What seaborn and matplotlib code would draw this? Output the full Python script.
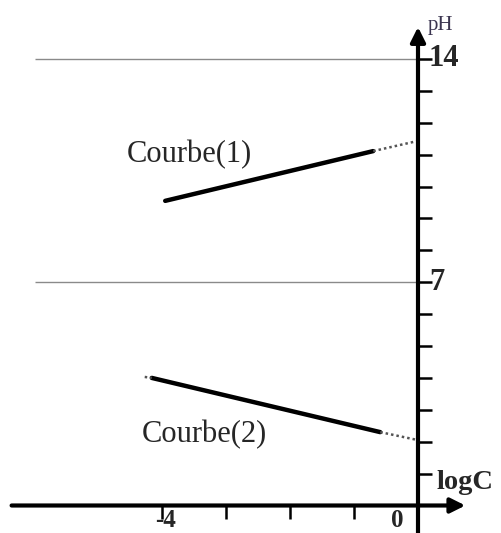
import matplotlib
matplotlib.use("Agg")
import matplotlib.pyplot as plt
import seaborn as sns
import pandas as pd

sns.set_style("white")
plt.rcParams["font.family"] = ["Liberation Serif", "DejaVu Serif"]

# pH of the two solutions as a function of log of concentration
curve1_solid_logC = [-3.95, -0.70]
curve1_solid_pH = [9.55, 11.11]
curve1_dot_logC = [-0.70, 0.0]
curve1_dot_pH = [11.11, 11.43]

curve2_solid_logC = [-4.16, -0.59]
curve2_solid_pH = [4.00, 2.30]
curve2_dot_logC = [-4.27, -4.16, None, -0.59, 0.0]
curve2_dot_pH = [4.03, 4.00, None, 2.30, 2.05]

ref_levels = [7, 14]
ph_ticks = list(range(1, 15))
ph_labels = {14: "14", 7: "7"}
logc_ticks = [-4, -3, -2, -1]
logc_labels = {-4: "-4", 0: "0"}

XPX, YPX = 64.0, 31.9  # pixels per unit on each axis

fig = plt.figure(figsize=(5.01, 5.33), dpi=100)
ax = fig.add_axes([0, 0, 1, 1])

# reference levels
ax.hlines(ref_levels, -5.98, 0, color="#8a8a8a", lw=1.0, zorder=1)

# axes with arrows
ax.annotate("", xy=(0.74, 0), xytext=(-6.35, 0),
            arrowprops=dict(arrowstyle="-|>", lw=3.0, color="black",
                            mutation_scale=22, shrinkA=0, shrinkB=0), zorder=5)
ax.annotate("", xy=(0, 15.0), xytext=(0, -1.0),
            arrowprops=dict(arrowstyle="-|>", lw=3.0, color="black",
                            mutation_scale=22, shrinkA=0, shrinkB=0), zorder=5)

# tick marks
ax.hlines(ph_ticks, 0, 14 / XPX, color="black", lw=1.8, zorder=4)
ax.vlines(logc_ticks, -13 / YPX, 0, color="black", lw=1.8, zorder=4)

# curves
df1 = pd.DataFrame({"logC": curve1_solid_logC, "pH": curve1_solid_pH})
df2 = pd.DataFrame({"logC": curve2_solid_logC, "pH": curve2_solid_pH})
sns.lineplot(data=df1, x="logC", y="pH", ax=ax, color="black", lw=3.2,
             sort=False, legend=False)
sns.lineplot(data=df2, x="logC", y="pH", ax=ax, color="black", lw=3.2,
             sort=False, legend=False)
ax.plot(curve1_dot_logC, curve1_dot_pH, color="#555555", lw=1.8, ls=(0, (1, 1.2)))
ax.plot(curve2_dot_logC, curve2_dot_pH, color="#555555", lw=1.8, ls=(0, (1, 1.2)))
ax.set_xlim(-418 / XPX, (501 - 418) / XPX)
ax.set_ylim(-(533 - 505.5) / YPX, 505.5 / YPX)
ax.axis("off")

# labels
for v, s in ph_labels.items():
    ax.text(0.17, v, s, fontsize=22, fontweight="bold", ha="left", va="center")
label_x = {-4: -3.94, 0: -0.33}
for v, s in logc_labels.items():
    ax.text(label_x[v], -0.12, s, fontsize=18, fontweight="bold", ha="center", va="top")
ax.text(0.29, 0.72, "logC", fontsize=20.5, fontweight="bold", ha="left", va="center")
ax.text(0.15, 15.05, "pH", fontsize=15, color="#3b3550", ha="left", va="center")

ax.text(-4.55, 10.99, "Courbe(1)", fontsize=22, ha="left", va="center")
ax.text(-4.31, 2.21, "Courbe(2)", fontsize=22, ha="left", va="center")

fig.savefig("out.png", dpi=100)
